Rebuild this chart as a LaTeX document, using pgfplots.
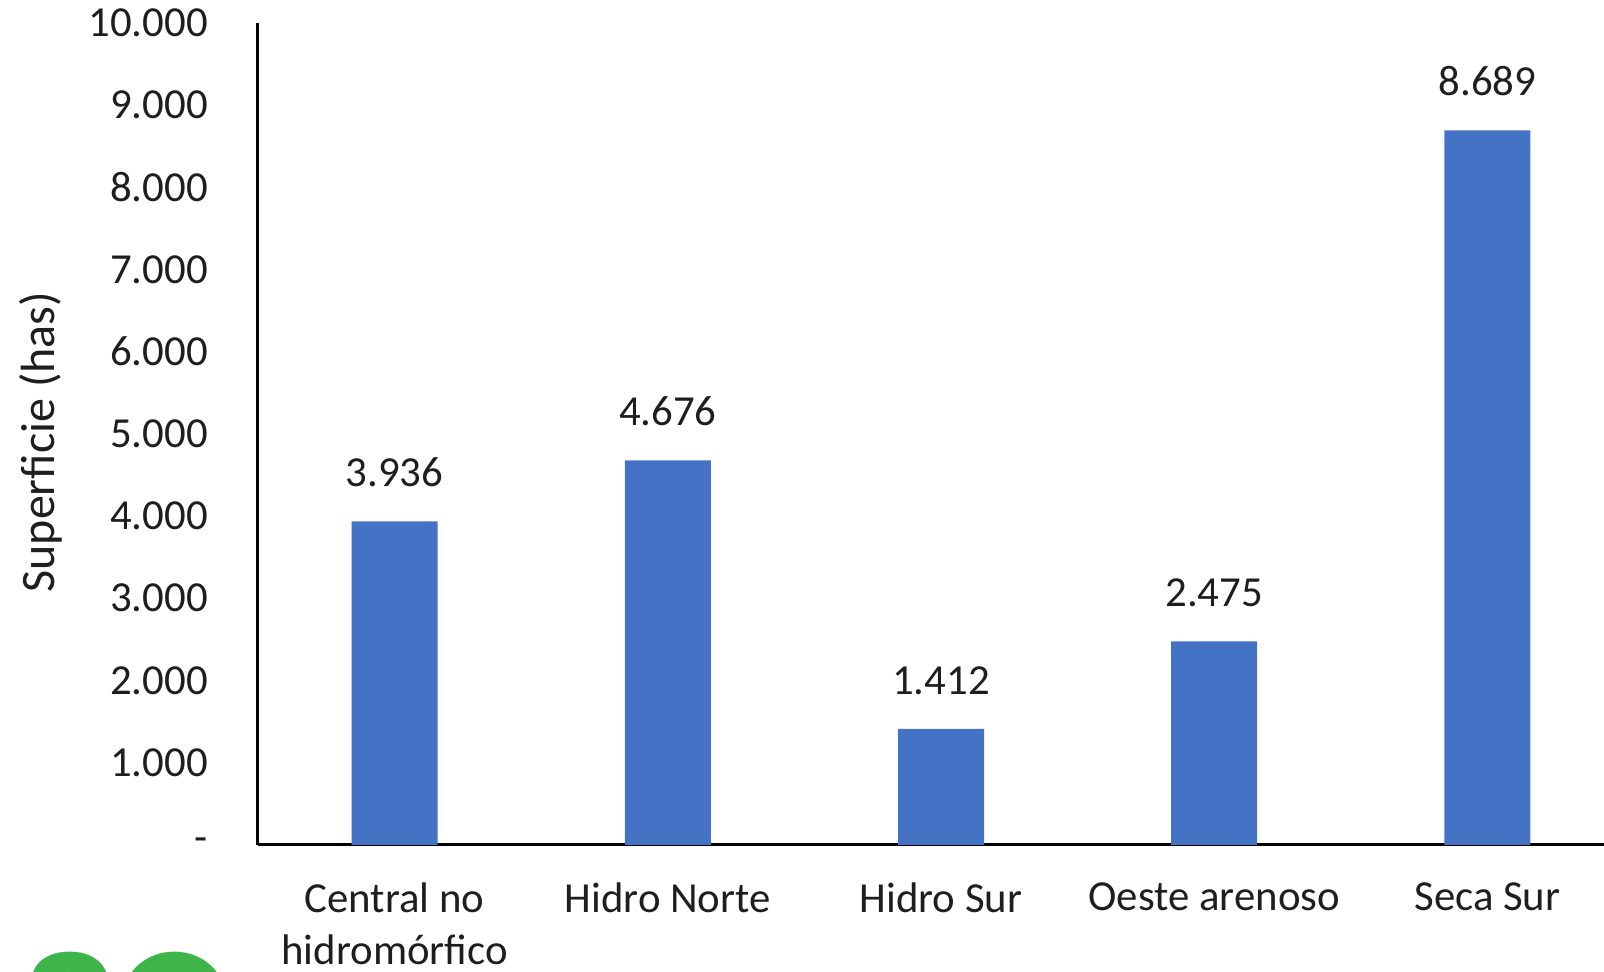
\documentclass[border=0pt]{standalone}
\usepackage{pgfplots}
\pgfplotsset{compat=1.18}
\usepackage{fontspec}
\setmainfont{Carlito}
\newfontfamily\logofont{Poppins}

\definecolor{barblue}{RGB}{68,114,196}
\definecolor{logogreen}{RGB}{61,181,74}
\definecolor{txt}{RGB}{30,30,30}

\begin{document}
\begin{tikzpicture}
% picture frame (the reference is cut off on the right and at the bottom)
\useasboundingbox (-64.5pt,-31.75pt) rectangle (336.5pt,211.25pt);

\begin{axis}[
    scale only axis,
    width=341.5pt, height=205.6pt,
    xmin=-0.5, xmax=4.5,
    ymin=0, ymax=10000,
    axis x line*=bottom,
    axis y line*=left,
    axis line style={line width=0.75pt, black},
    major tick length=0pt,
    xtick={0,1,2,3,4},
    xticklabels={{Central no\\hidromórfico}, Hidro Norte, Hidro Sur, Oeste arenoso, Seca Sur},
    ytick={0,1000,...,10000},
    yticklabels={-\hspace{4pt}, 1.000, 2.000, 3.000, 4.000, 5.000, 6.000, 7.000, 8.000, 9.000, 10.000},
    tick label style={font=\fontsize{10.7}{13}\selectfont, text=txt},
    xticklabel style={align=center, yshift=-6pt},
    yticklabel style={xshift=-9pt},
    ylabel={Superficie (has)},
    ylabel style={at={(axis description cs:-0.159,0.49)}, anchor=center, font=\fontsize{12}{14}\selectfont, text=txt},
    /pgf/number format/.cd, 1000 sep={.}, assume math mode=true, /pgfplots/.cd,
    nodes near coords,
    every node near coord/.append style={font=\fontsize{10.7}{13}\selectfont, text=txt, yshift=5pt},
    clip=false,
]
\addplot[ybar, bar width=21.5pt, fill=barblue, draw=none] coordinates {
    (0, 3936) (1, 4676) (2, 1412) (3, 2475) (4, 8689)
};
\end{axis}

% fragment of a logo cut off at the bottom left
\node[anchor=north east, inner sep=0pt, text=logogreen, font=\logofont\bfseries\fontsize{37}{40}\selectfont] at (-6pt,-26.5pt) {ASO};
\end{tikzpicture}
\end{document}
